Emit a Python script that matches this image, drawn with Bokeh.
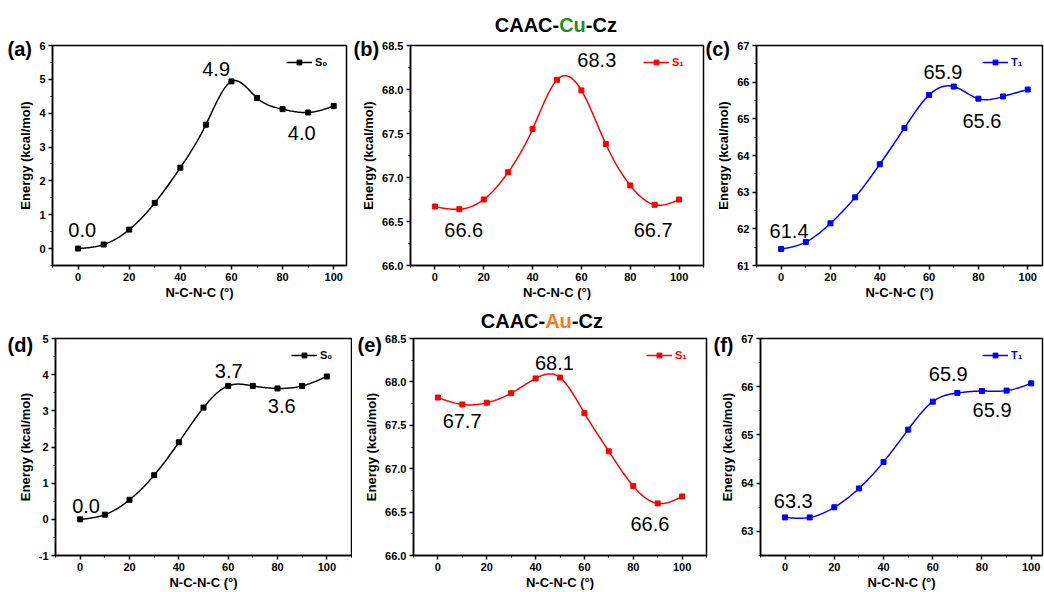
import numpy as np
from bokeh.plotting import figure
from bokeh.layouts import row, column
from bokeh.models import (Range1d, FixedTicker, PrintfTickFormatter, Label, Legend,
                          LegendItem, Title)
from bokeh.embed import file_html
from bokeh.resources import INLINE

# ---------------- data ----------------
angle = [0, 10, 20, 30, 40, 50, 60, 70, 80, 90, 100]
cu_s0 = [0.00, 0.12, 0.56, 1.35, 2.39, 3.66, 4.94, 4.45, 4.12, 4.02, 4.21]
cu_s1 = [66.67, 66.64, 66.75, 67.06, 67.55, 68.11, 67.99, 67.38, 66.91, 66.69, 66.75]
cu_t1 = [61.45, 61.64, 62.15, 62.86, 63.76, 64.75, 65.65, 65.88, 65.55, 65.61, 65.80]
au_s0 = [0.00, 0.13, 0.54, 1.22, 2.13, 3.09, 3.69, 3.69, 3.62, 3.69, 3.95]
au_s1 = [67.82, 67.74, 67.76, 67.87, 68.04, 68.05, 67.64, 67.20, 66.80, 66.60, 66.68]
au_t1 = [63.29, 63.29, 63.50, 63.89, 64.44, 65.11, 65.69, 65.87, 65.91, 65.92, 66.07]

x_ticks = [0, 20, 40, 60, 80, 100]
x_minor = [-10, 10, 30, 50, 70, 90, 110]
y_ticks_a = [0, 1, 2, 3, 4, 5, 6]
y_ticks_b = [66.0, 66.5, 67.0, 67.5, 68.0, 68.5]
y_ticks_c = [61, 62, 63, 64, 65, 66, 67]
y_ticks_d = [-1, 0, 1, 2, 3, 4, 5]
y_ticks_e = [66.0, 66.5, 67.0, 67.5, 68.0, 68.5]
y_ticks_f = [63, 64, 65, 66, 67]

notes_a = ["0.0", "4.9", "4.0"]
notes_b = ["66.6", "68.3", "66.7"]
notes_c = ["61.4", "65.9", "65.6"]
notes_d = ["0.0", "3.7", "3.6"]
notes_e = ["67.7", "68.1", "66.6"]
notes_f = ["63.3", "65.9", "65.9"]

FONT = "Liberation Sans"


def spline(xs, ys, n=240):
    x = np.asarray(xs, float)
    y = np.asarray(ys, float)
    m = len(x)
    h = np.diff(x)
    A = np.zeros((m, m))
    r = np.zeros(m)
    A[0, 0] = A[-1, -1] = 1.0
    for i in range(1, m - 1):
        A[i, i - 1] = h[i - 1]
        A[i, i] = 2 * (h[i - 1] + h[i])
        A[i, i + 1] = h[i]
        r[i] = 6 * ((y[i + 1] - y[i]) / h[i] - (y[i] - y[i - 1]) / h[i - 1])
    M = np.linalg.solve(A, r)
    xx = np.linspace(x[0], x[-1], n)
    i = np.clip(np.searchsorted(x, xx) - 1, 0, m - 2)
    hi = h[i]
    a = x[i + 1] - xx
    b = xx - x[i]
    s = (M[i] * a ** 3 / (6 * hi) + M[i + 1] * b ** 3 / (6 * hi)
         + (y[i] / hi - M[i] * hi / 6) * a + (y[i + 1] / hi - M[i + 1] * hi / 6) * b)
    return xx, s


def panel(values, color, legend_label, yr, yticks, fmt, xr, width, height,
          borders, notes, note_pos, tag, tag_offset, tag_standoff):
    bl, br, bt, bb = borders
    p = figure(width=width, height=height, output_backend="svg", toolbar_location=None,
               title=None, x_range=Range1d(*xr), y_range=Range1d(*yr),
               min_border_left=bl, min_border_right=br, min_border_top=bt, min_border_bottom=bb)
    p.background_fill_color = "white"
    p.border_fill_color = "white"
    p.outline_line_color = "black"
    p.outline_line_width = 1.5
    p.xgrid.visible = False
    p.ygrid.visible = False

    ystep = yticks[1] - yticks[0]
    yminor = [yticks[0] - ystep / 2] + [t + ystep / 2 for t in yticks]
    p.xaxis.ticker = FixedTicker(ticks=x_ticks, minor_ticks=x_minor)
    p.yaxis.ticker = FixedTicker(ticks=yticks, minor_ticks=yminor)
    p.xaxis.formatter = PrintfTickFormatter(format="%d")
    p.yaxis.formatter = PrintfTickFormatter(format=fmt)
    p.xaxis.axis_label = "N-C-N-C (°)"
    p.yaxis.axis_label = "Energy (kcal/mol)"
    for ax in (p.xaxis, p.yaxis):
        ax.axis_line_width = 1.5
        ax.axis_line_color = "black"
        ax.major_tick_line_width = 1.5
        ax.minor_tick_line_width = 1.2
        ax.major_tick_out = 4
        ax.major_tick_in = 0
        ax.minor_tick_out = 2
        ax.minor_tick_in = 0
        ax.major_label_text_font = FONT
        ax.major_label_text_font_style = "bold"
        ax.major_label_text_font_size = "11px"
        ax.major_label_text_color = "black"
        ax.axis_label_text_font = FONT
        ax.axis_label_text_font_style = "bold"
        ax.axis_label_text_font_size = "13px"
        ax.axis_label_text_color = "black"
        ax.major_label_standoff = 3
    p.xaxis.axis_label_standoff = 1
    p.yaxis.axis_label_standoff = 3

    xs, ys = spline(angle, values)
    ln = p.line(xs, ys, line_color=color, line_width=1.5)
    sc = p.scatter(angle, values, marker="square", size=5, fill_color=color, line_color=color)

    leg = Legend(items=[LegendItem(label=legend_label, renderers=[ln, sc])],
                 location="top_right", border_line_alpha=0, background_fill_alpha=0,
                 label_text_font=FONT, label_text_font_style="bold",
                 label_text_font_size="11px", label_text_color=color,
                 glyph_width=26, glyph_height=12, label_height=12,
                 padding=2, margin=9, label_standoff=3)
    p.add_layout(leg)

    for txt, (nx, ny) in zip(notes, note_pos):
        p.add_layout(Label(x=nx, y=ny, text=txt, text_font=FONT, text_font_size="20px",
                           text_color="black", text_align="center", text_baseline="middle"))
    p.add_layout(Title(text=tag, align="left", offset=tag_offset, standoff=tag_standoff,
                       vertical_align="bottom", text_font=FONT, text_font_size="20px",
                       text_font_style="bold", text_color="black"), "above")
    return p


def title_strip(height, metal, metal_color, cx, ymid):
    t = figure(width=1044, height=height, output_backend="svg", toolbar_location=None,
               title=None, x_range=Range1d(0, 1044), y_range=Range1d(0, height),
               x_axis_location=None, y_axis_location=None, min_border=0)
    t.xgrid.visible = False
    t.ygrid.visible = False
    t.outline_line_color = None
    t.background_fill_color = "white"
    t.border_fill_color = "white"
    half = 13.3
    common = dict(text_font=FONT, text_font_size="20px", text_font_style="bold",
                  text_baseline="middle")
    t.add_layout(Label(x=cx - half, y=ymid, text="CAAC-", text_color="black",
                       text_align="right", **common))
    t.add_layout(Label(x=cx, y=ymid, text=metal, text_color=metal_color,
                       text_align="center", **common))
    t.add_layout(Label(x=cx + half, y=ymid, text="-Cz", text_color="black",
                       text_align="left", **common))
    return t


H1, H2 = 267, 260
pa = panel(cu_s0, "black", "S₀", (-0.5, 6), y_ticks_a, "%d", (-10, 105), 350, H1,
           (52, 4, 9, 38), notes_a, [(1.6, 0.56), (54, 5.32), (87.5, 3.42)], "(a)", -45, -28)
pb = panel(cu_s1, "red", "S₁", (66, 68.5), y_ticks_b, "%.1f", (-10, 110), 356, H1,
           (60, 3, 9, 38), notes_b, [(11.8, 66.40), (66.3, 68.33), (89.4, 66.40)], "(b)", -57, -28)
pc = panel(cu_t1, "blue", "T₁", (61, 67), y_ticks_c, "%d", (-10, 106), 338, H1,
           (50, 2, 9, 38), notes_c, [(3.2, 61.95), (65.6, 66.29), (81.4, 64.95)], "(c)", -51, -28)
pd = panel(au_s0, "black", "S₀", (-1, 5), y_ticks_d, "%d", (-10, 110), 352, H2,
           (55, 1, 6, 34), notes_d, [(2.4, 0.37), (60.2, 4.10), (81.7, 3.14)], "(d)", -48, -34)
pe = panel(au_s1, "red", "S₁", (66, 68.5), y_ticks_e, "%.1f", (-10, 110), 357, H2,
           (61, 3, 6, 34), notes_e, [(9.9, 67.55), (47.7, 68.22), (86.8, 66.36)], "(e)", -56, -34)
pf = panel(au_t1, "blue", "T₁", (62.5, 67), y_ticks_f, "%d", (-10, 104.6), 335, H2,
           (51, 2, 6, 34), notes_f, [(3.3, 63.64), (66.3, 66.26), (84.1, 65.51)], "(f)", -47, -34)

t1 = title_strip(36, "Cu", "#1f8f1f", 572, 12)
t2 = title_strip(29, "Au", "#f47c20", 558, 12)

layout = column(t1, row(pa, pb, pc, spacing=0), t2, row(pd, pe, pf, spacing=0), spacing=0)

open("out.html", "w").write(file_html(layout, INLINE))
